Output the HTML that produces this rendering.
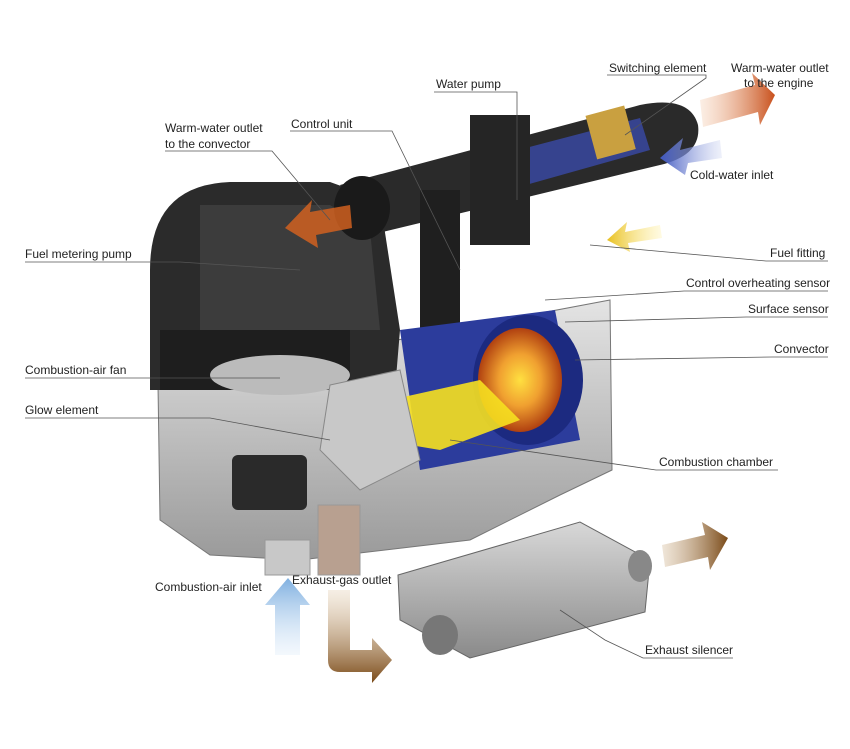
<!DOCTYPE html>
<html><head><meta charset="utf-8"><style>
html,body{margin:0;padding:0;background:#fff}
svg{display:block}
text{font-family:"Liberation Sans",sans-serif;font-size:12px;fill:#222}
</style></head><body>
<svg width="850" height="749" viewBox="0 0 850 749" xmlns="http://www.w3.org/2000/svg">
<defs>
<linearGradient id="sil" x1="0" y1="0" x2="0" y2="1"><stop offset="0" stop-color="#e4e4e4"/><stop offset="1" stop-color="#9a9a9a"/></linearGradient>
<linearGradient id="muf" x1="0" y1="0" x2="0" y2="1"><stop offset="0" stop-color="#d8d8d8"/><stop offset="1" stop-color="#8a8a8a"/></linearGradient>
<radialGradient id="fire" cx="0.5" cy="0.5" r="0.5"><stop offset="0" stop-color="#ffe040"/><stop offset="0.5" stop-color="#f0a030"/><stop offset="1" stop-color="#b04010"/></radialGradient>
<linearGradient id="oa" x1="0" y1="0" x2="1" y2="0"><stop offset="0" stop-color="#f4c8a8" stop-opacity="0.3"/><stop offset="1" stop-color="#c8501c"/></linearGradient>
<linearGradient id="ba" x1="1" y1="0" x2="0" y2="0"><stop offset="0" stop-color="#c8d0f0" stop-opacity="0.3"/><stop offset="1" stop-color="#4058c0"/></linearGradient>
<linearGradient id="ya" x1="1" y1="0" x2="0" y2="0"><stop offset="0" stop-color="#fff0a0" stop-opacity="0.3"/><stop offset="1" stop-color="#e8c020"/></linearGradient>
<linearGradient id="ua" x1="0" y1="1" x2="0" y2="0"><stop offset="0" stop-color="#d8e8f8" stop-opacity="0.3"/><stop offset="1" stop-color="#80b0e0"/></linearGradient>
<linearGradient id="br" x1="0" y1="0" x2="1" y2="0"><stop offset="0" stop-color="#d8c0a0" stop-opacity="0.4"/><stop offset="1" stop-color="#7a4a18"/></linearGradient>
<linearGradient id="brd" x1="0" y1="0" x2="0" y2="1"><stop offset="0" stop-color="#e0c8a8" stop-opacity="0.3"/><stop offset="1" stop-color="#7a4a18"/></linearGradient>
</defs>

<!-- lower silver housing -->
<path d="M158 385 L610 300 L612 470 L560 495 L470 540 L300 560 L210 555 L160 520 Z" fill="url(#sil)" stroke="#777"/>
<rect x="232" y="455" width="75" height="55" rx="6" fill="#2a2a2a"/>
<!-- dark upper housing -->
<path d="M150 270 Q150 185 230 182 L330 182 L380 200 L400 330 L395 390 L150 390 Z" fill="#2b2b2b"/>
<path d="M200 205 L330 205 L370 230 L380 330 L200 330 Z" fill="#3c3c3c"/>
<rect x="160" y="330" width="190" height="60" fill="#1e1e1e"/>
<ellipse cx="280" cy="375" rx="70" ry="20" fill="#bbb"/>
<!-- top pipe -->
<path d="M340 185 L640 105 Q690 95 698 125 Q702 155 660 165 L370 235 Z" fill="#2a2a2a"/>
<path d="M480 160 L640 118 L650 150 L490 195 Z" fill="#3a4aa8" opacity="0.8"/>
<rect x="590" y="110" width="40" height="45" fill="#c9a040" transform="rotate(-15 610 130)"/>
<rect x="470" y="115" width="60" height="130" fill="#252525"/>
<ellipse cx="362" cy="208" rx="28" ry="32" fill="#1a1a1a"/>
<!-- vertical control pipe -->
<rect x="420" y="190" width="40" height="170" fill="#1f1f1f"/>
<!-- convector cylinder -->
<path d="M400 330 L555 310 L580 440 L420 470 Z" fill="#2c3c9c"/>
<ellipse cx="528" cy="380" rx="55" ry="65" fill="#1c2a80"/>
<ellipse cx="520" cy="380" rx="42" ry="52" fill="url(#fire)"/>
<path d="M390 400 L480 380 L520 420 L440 450 L380 440 Z" fill="#f6e020" opacity="0.9"/>
<path d="M330 385 L400 370 L420 460 L360 490 L320 450 Z" fill="#c8c8c8" stroke="#888"/>
<!-- legs / pipes bottom -->
<rect x="265" y="540" width="45" height="35" fill="#c8c8c8" stroke="#999"/>
<rect x="318" y="505" width="42" height="70" fill="#b8a090" stroke="#999"/>
<!-- muffler -->
<path d="M398 575 L580 522 L650 560 L645 612 L470 658 L400 620 Z" fill="url(#muf)" stroke="#666"/>
<ellipse cx="440" cy="635" rx="18" ry="20" fill="#777"/>
<ellipse cx="640" cy="566" rx="12" ry="16" fill="#888"/>
<!-- arrows -->
<path d="M700 100 L755 85 L752 73 L775 95 L760 125 L758 112 L703 127 Z" fill="url(#oa)"/>
<path d="M720 140 L680 150 L683 138 L660 158 L685 175 L688 163 L722 158 Z" fill="url(#ba)"/>
<path d="M660 225 L625 232 L627 222 L607 240 L630 252 L628 243 L662 238 Z" fill="url(#ya)"/>
<path d="M350 200 L310 210 L312 198 L285 225 L318 245 L316 232 L352 222 Z" fill="url(#oa)" transform="rotate(180 318 222) scale(1) " opacity="0"/>
<path d="M350 205 L310 212 L312 200 L285 228 L318 248 L316 235 L352 228 Z" fill="#d06020" opacity="0.85"/>
<path d="M275 655 L275 605 L265 605 L288 578 L310 605 L300 605 L300 655 Z" fill="url(#ua)"/>
<path d="M328 590 L350 590 L350 650 L372 650 L372 638 L392 660 L372 683 L372 672 L340 672 Q328 672 328 660 Z" fill="url(#brd)"/>
<path d="M662 545 L705 535 L702 522 L728 538 L710 570 L708 557 L665 567 Z" fill="url(#br)"/>

<!-- leader lines -->
<g stroke="#555" stroke-width="0.8" fill="none">
<polyline points="434,92 517,92 517,200"/>
<polyline points="607,75 706,75 706,78 625,135"/>
<polyline points="290,131 392,131 460,270"/>
<polyline points="165,151 272,151 330,220"/>
<polyline points="25,262 180,262 300,270"/>
<polyline points="828,261 766,261 590,245"/>
<polyline points="828,291 684,291 545,300"/>
<polyline points="828,317 746,317 565,322"/>
<polyline points="828,357 772,357 575,360"/>
<polyline points="25,378 280,378"/>
<polyline points="25,418 210,418 330,440"/>
<polyline points="778,470 656,470 450,440"/>
<polyline points="733,658 643,658 605,640 560,610"/>
</g>

<text x="436" y="88">Water pump</text>
<text x="609" y="72">Switching element</text>
<text x="731" y="72">Warm-water outlet</text>
<text x="744" y="87">to the engine</text>
<text x="291" y="128">Control unit</text>
<text x="165" y="132">Warm-water outlet</text>
<text x="165" y="148">to the convector</text>
<text x="690" y="179">Cold-water inlet</text>
<text x="25" y="258">Fuel metering pump</text>
<text x="770" y="257">Fuel fitting</text>
<text x="686" y="287">Control overheating sensor</text>
<text x="748" y="313">Surface sensor</text>
<text x="774" y="353">Convector</text>
<text x="25" y="374">Combustion-air fan</text>
<text x="25" y="414">Glow element</text>
<text x="659" y="466">Combustion chamber</text>
<text x="155" y="591">Combustion-air inlet</text>
<text x="292" y="584">Exhaust-gas outlet</text>
<text x="645" y="654">Exhaust silencer</text>
</svg>
</body></html>
